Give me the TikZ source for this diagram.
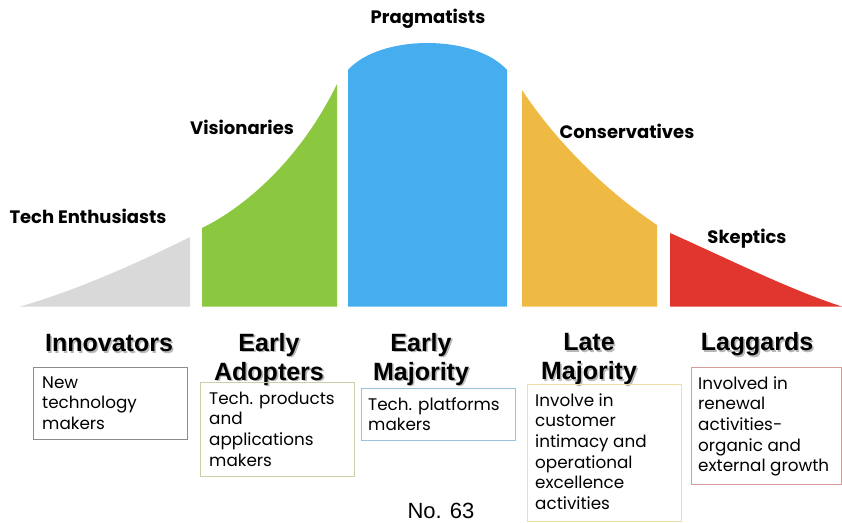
\documentclass[tikz,border=0pt]{standalone}
\usepackage{fontspec}
\setmainfont{Liberation Sans}
\newfontfamily\gothic{Poppins}

\definecolor{cgray}{HTML}{D9D9D9}
\definecolor{cgreen}{HTML}{8BC83F}
\definecolor{cblue}{HTML}{46AEEE}
\definecolor{cyellow}{HTML}{EFBA43}
\definecolor{cred}{HTML}{E1362D}
\definecolor{bgray}{HTML}{8C8C8C}
\definecolor{bolive}{HTML}{C9CFA9}
\definecolor{bblue}{HTML}{98C2D8}
\definecolor{byellow}{HTML}{EEE0A4}
\definecolor{bred}{HTML}{D99A98}

% heading text with a soft drop shadow
\newcommand\shd[1]{\leavevmode\rlap{\kern1.6pt\raisebox{-1.6pt}{\color{black!28}#1}}#1}

\tikzset{
  segment label/.style={font=\gothic\bfseries\fontsize{18}{21}\selectfont, inner sep=0pt},
  group head/.style={font=\bfseries\fontsize{25}{29}\selectfont, align=center, inner sep=0pt},
  desc frame/.style={draw=#1, line width=0.9pt, anchor=north west, inner sep=0pt},
  desc text/.style={font=\gothic\fontsize{16.8}{20.7}\selectfont, align=left, anchor=north west, inner sep=0pt},
}

\begin{document}
\begin{tikzpicture}[x=1pt, y=-1pt]
\useasboundingbox (0,0) rectangle (842,522);

% adoption curve segments
\fill[cgray]   (20,306.5) .. controls (75,291) and (140,262) .. (190,237) -- (190,306.5) -- cycle;
\fill[cgreen]  (202,306.5) -- (202,228) .. controls (245,207) and (300,160) .. (337,84) -- (337,306.5) -- cycle;
\fill[cblue]   (348,306.5) -- (348,70) .. controls (380,34) and (475,34) .. (507,70) -- (507,306.5) -- cycle;
\fill[cyellow] (522,306.5) -- (522,90) .. controls (545,125) and (590,180) .. (657,225) -- (657,306.5) -- cycle;
\fill[cred]    (670,306.5) -- (670,233) .. controls (720,255) and (790,290) .. (842,306.5) -- cycle;

% segment labels
\node[segment label] (enth) at (88,216) {Tech Enthusiasts};
\node[segment label] (vis)  at (242,127) {Visionaries};
\node[segment label] (prag) at (428,19) {Pragmatists};
\node[segment label] (cons) at (627,131) {Conservatives};
\node[segment label] (skep) at (747,239) {Skeptics};

% group headings
\node[group head] (hinn) at (109,344) {\shd{Innovators}};
\node[group head] (hea)  at (269,360) {\shd{Early}\\\shd{Adopters}};
\node[group head] (hem)  at (421,360) {\shd{Early}\\\shd{Majority}};
\node[group head] (hlm)  at (589,360) {\shd{Late}\\\shd{Majority}};
\node[group head] (hlag) at (757,345) {\shd{Laggards}};

% description frames
\node[desc frame=bgray,   minimum width=154pt, minimum height=72pt]  (binn) at (33,367)  {};
\node[desc frame=bolive,  minimum width=154pt, minimum height=94pt]  (bea)  at (200,382) {};
\node[desc frame=bblue,   minimum width=154pt, minimum height=52pt]  (bem)  at (361,388) {};
\node[desc frame=byellow, minimum width=154pt, minimum height=137pt] (blm)  at (527,384) {};
\node[desc frame=bred,    minimum width=150pt, minimum height=117pt] (blag) at (691,367) {};

% description texts
\node[desc text] (tinn) at ([shift={(9,6.5)}]binn.north west) {\strut New\\technology\\makers};
\node[desc text] (tea)  at ([shift={(9,7.5)}]bea.north west) {\strut Tech. products\\and\\applications\\makers};
\node[desc text] (tem)  at ([shift={(7,7.5)}]bem.north west) {\strut Tech. platforms\\makers};
\node[desc text] (tlm)  at ([shift={(8,7.5)}]blm.north west) {\strut Involve in\\customer\\intimacy and\\operational\\excellence\\activities};
\node[desc text] (tlag) at ([shift={(7,7.5)}]blag.north west) {\strut Involved in\\renewal\\activities-\\organic and\\external growth};

% page number
\node[font=\fontsize{22}{26}\selectfont, inner sep=0pt] (pno) at (441,511) {No. 63};
\end{tikzpicture}
\end{document}
